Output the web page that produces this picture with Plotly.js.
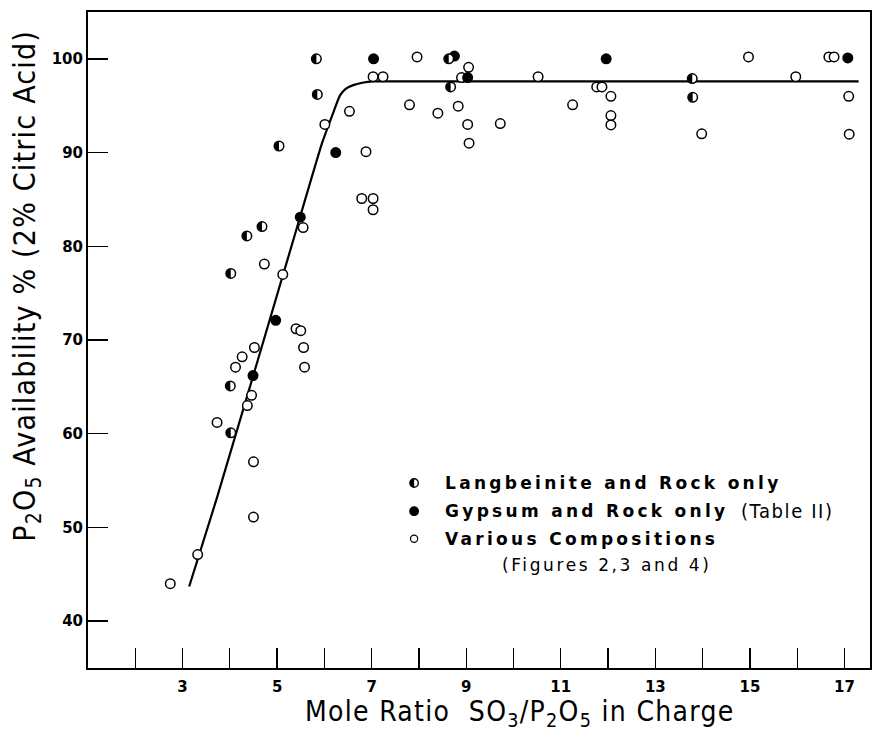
<!DOCTYPE html>
<html>
<head>
<meta charset="utf-8">
<script src="https://cdn.plot.ly/plotly-3.0.1.min.js"></script>
<style>
html,body{margin:0;padding:0;background:#fff;}
#chart{width:885px;height:736px;}
</style>
</head>
<body>
<div id="chart"></div>
<script>
// Langbeinite and Rock only (half-filled symbols)
const langX = [5.83, 5.85, 5.04, 4.68, 4.36, 4.02, 4.01, 4.02, 8.63, 8.67, 13.78, 13.79];
const langY = [100.0, 96.2, 90.7, 82.1, 81.1, 77.1, 65.1, 60.1, 100.0, 97.0, 97.9, 95.9];

// Gypsum and Rock only (filled symbols)
const gypX = [7.04, 6.24, 5.49, 4.97, 4.49, 8.75, 9.03, 11.96, 17.07];
const gypY = [100.0, 90.0, 83.1, 72.1, 66.2, 100.3, 98.0, 100.0, 100.1];

// Various compositions (open symbols)
const varX = [7.03, 7.24, 6.53, 6.01, 6.88, 6.79, 7.03, 7.03, 5.55, 4.73, 5.12, 5.40, 5.50, 4.52, 5.56, 4.26, 4.12, 5.58, 4.46, 4.37, 3.73, 4.50, 4.50, 3.32, 2.74, 7.96, 9.05, 8.90, 10.52, 11.76, 11.87, 7.80, 8.40, 8.83, 9.03, 9.72, 9.06, 11.25, 12.06, 12.06, 12.06, 13.98, 14.97, 15.97, 16.67, 16.78, 17.09, 17.10];
const varY = [98.1, 98.1, 94.4, 93.0, 90.1, 85.1, 85.1, 83.9, 82.0, 78.1, 77.0, 71.2, 71.0, 69.2, 69.2, 68.2, 67.1, 67.1, 64.1, 63.0, 61.2, 57.0, 51.1, 47.1, 44.0, 100.2, 99.1, 98.0, 98.1, 97.0, 97.0, 95.1, 94.2, 94.95, 93.0, 93.1, 91.0, 95.1, 96.0, 93.95, 92.95, 92.0, 100.2, 98.1, 100.2, 100.2, 96.0, 91.96];

// Fitted curve
const curveX = [3.14, 3.73, 5.35, 5.95, 6.19, 6.33, 6.45, 6.61, 6.8, 7.03, 7.4, 17.3];
const curveY = [43.7, 53.2, 80.8, 91.0, 94.3, 96.1, 96.8, 97.2, 97.45, 97.6, 97.6, 97.6];

// Axis ticks
const xTickVals = [3, 5, 7, 9, 11, 13, 15, 17];
const xTickText = ["3", "5", "7", "9", "11", "13", "15", "17"];
const xMinorVals = [2, 4, 6, 8, 10, 12, 14, 16];
const yTickVals = [40, 50, 60, 70, 80, 90, 100];
const yTickText = ["40", "50", "60", "70", "80", "90", "100"];

const legendLabels = ["Langbeinite and Rock only", "Gypsum and Rock only", "Various Compositions", "(Figures 2,3 and 4)"];
const legendNote = "(Table II)";

const R = 4.5, K = 0.5523;
const halfPath = `M0,${R} C${-K*R},${R} ${-R},${K*R} ${-R},0 C${-R},${-K*R} ${-K*R},${-R} 0,${-R} Z`;
const r2 = 4.2;
const halfPathLeg = `M0,${r2} C${-K*r2},${r2} ${-r2},${K*r2} ${-r2},0 C${-r2},${-K*r2} ${-K*r2},${-r2} 0,${-r2} Z`;

const markerLine = {color: '#000', width: 1.5};
const traces = [
  {x: curveX, y: curveY, mode: 'lines', line: {color: '#000', width: 2.2, shape: 'spline', smoothing: 0.5}, showlegend: false, hoverinfo: 'skip'},
  {x: varX, y: varY, mode: 'markers', name: legendLabels[2], marker: {symbol: 'circle', size: 9.5, color: '#fff', line: markerLine}, showlegend: false},
  {x: gypX, y: gypY, mode: 'markers', name: legendLabels[1], marker: {symbol: 'circle', size: 9.5, color: '#000', line: markerLine}, showlegend: false},
  {x: langX, y: langY, mode: 'markers', name: legendLabels[0], marker: {symbol: 'circle', size: 9.5, color: '#fff', line: markerLine}, showlegend: false}
];

const shapes = langX.map((xv, i) => ({
  type: 'path', xref: 'x', yref: 'y', xsizemode: 'pixel', ysizemode: 'pixel',
  xanchor: xv, yanchor: langY[i], path: halfPath, fillcolor: '#000', line: {width: 0}, layer: 'above'
}));

// legend symbols (paper coordinates)
const legX = 0.417;
const legRows = [0.282, 0.239, 0.197, 0.157];
shapes.push({type: 'circle', xref: 'paper', yref: 'paper', xsizemode: 'pixel', ysizemode: 'pixel', xanchor: legX, yanchor: legRows[0], x0: -4.2, x1: 4.2, y0: -4.2, y1: 4.2, fillcolor: '#fff', line: {color: '#000', width: 1.4}});
shapes.push({type: 'path', xref: 'paper', yref: 'paper', xsizemode: 'pixel', ysizemode: 'pixel', xanchor: legX, yanchor: legRows[0], path: halfPathLeg, fillcolor: '#000', line: {width: 0}});
shapes.push({type: 'circle', xref: 'paper', yref: 'paper', xsizemode: 'pixel', ysizemode: 'pixel', xanchor: legX, yanchor: legRows[1], x0: -4.2, x1: 4.2, y0: -4.2, y1: 4.2, fillcolor: '#000', line: {color: '#000', width: 1.4}});
shapes.push({type: 'circle', xref: 'paper', yref: 'paper', xsizemode: 'pixel', ysizemode: 'pixel', xanchor: legX, yanchor: legRows[2], x0: -3.6, x1: 3.6, y0: -3.6, y1: 3.6, fillcolor: '#fff', line: {color: '#000', width: 1.2}});

const legFont = {family: 'DejaVu Sans, Verdana, sans-serif', size: 17, color: '#000', weight: 'bold'};
const condFam = 'DejaVu Sans Condensed, Liberation Sans Narrow, sans-serif';
const ls = (t, s) => `<span style="letter-spacing:${s}px">${t}</span>`;
const annotations = [
  {xref: 'paper', yref: 'paper', x: 0.454, y: legRows[0], xanchor: 'left', yanchor: 'middle', showarrow: false, text: ls(legendLabels[0], 3.3), font: legFont},
  {xref: 'paper', yref: 'paper', x: 0.454, y: legRows[1], xanchor: 'left', yanchor: 'middle', showarrow: false, text: ls(legendLabels[1], 3.3), font: legFont},
  {xref: 'paper', yref: 'paper', x: 0.832, y: legRows[1], xanchor: 'left', yanchor: 'middle', showarrow: false, text: ls(legendNote, 1.6), font: {family: condFam, size: 20, color: '#000'}},
  {xref: 'paper', yref: 'paper', x: 0.454, y: legRows[2], xanchor: 'left', yanchor: 'middle', showarrow: false, text: ls(legendLabels[2], 3.3), font: legFont},
  {xref: 'paper', yref: 'paper', x: 0.527, y: legRows[3], xanchor: 'left', yanchor: 'middle', showarrow: false, text: ls(legendLabels[3], 2.6), font: {family: 'DejaVu Sans, sans-serif', size: 17, color: '#000'}},
  {xref: 'paper', yref: 'paper', x: 0.552, y: -0.069, xanchor: 'center', yanchor: 'middle', showarrow: false,
   text: ls('Mole Ratio  SO<sub>3</sub>/P<sub>2</sub>O<sub>5</sub> in Charge', 1.3),
   font: {family: condFam, size: 28, color: '#000'}},
  {xref: 'paper', yref: 'paper', x: -0.079, y: 0.583, xanchor: 'center', yanchor: 'middle', showarrow: false, textangle: -90,
   text: ls('P<sub>2</sub>O<sub>5</sub> Availability % (2% Citric Acid)', 1.2),
   font: {family: condFam, size: 30, color: '#000'}}
];

const tickFont = {family: 'DejaVu Sans, sans-serif', size: 15, color: '#000', weight: 'bold'};
const layout = {
  width: 885, height: 736,
  margin: {l: 88, r: 15, t: 12, b: 68},
  paper_bgcolor: '#fff', plot_bgcolor: '#fff',
  showlegend: false,
  xaxis: {
    range: [1, 17.54], tickmode: 'array', tickvals: xTickVals, ticktext: xTickText,
    ticks: 'inside', ticklen: 20, tickwidth: 1.3, tickcolor: '#000', ticklabelstandoff: 4,
    minor: {tickmode: 'array', tickvals: xMinorVals, ticks: 'inside', ticklen: 20, tickwidth: 1.3, tickcolor: '#000', showgrid: false},
    showline: true, linecolor: '#000', linewidth: 2, mirror: true,
    showgrid: false, zeroline: false, tickfont: tickFont
  },
  yaxis: {
    range: [35, 105], tickmode: 'array', tickvals: yTickVals, ticktext: yTickText,
    ticks: 'inside', ticklen: 20, tickwidth: 1.3, tickcolor: '#000',
    showline: true, linecolor: '#000', linewidth: 2, mirror: true,
    showgrid: false, zeroline: false, tickfont: tickFont
  },
  shapes: shapes,
  annotations: annotations
};

Plotly.newPlot('chart', traces, layout, {displayModeBar: false, staticPlot: true});
</script>
</body>
</html>
